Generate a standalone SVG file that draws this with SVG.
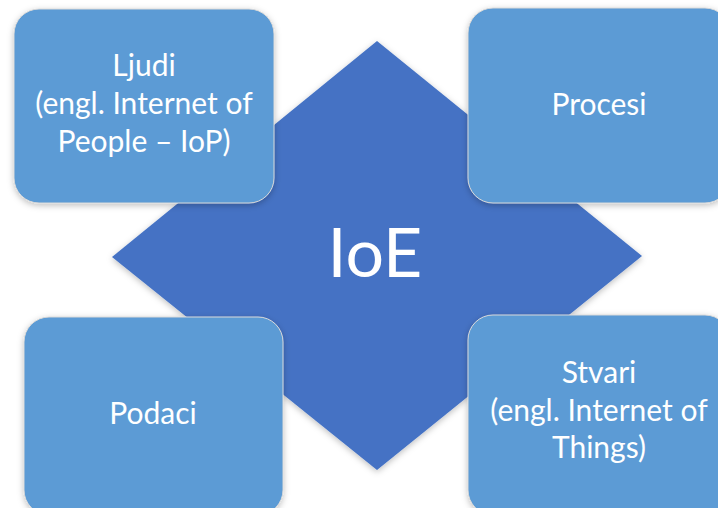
<svg xmlns="http://www.w3.org/2000/svg" width="718" height="508" viewBox="0 0 718 508">
<defs>
<filter id="sh" x="-10%" y="-10%" width="120%" height="125%">
<feDropShadow dx="0" dy="2" stdDeviation="3" flood-color="#000" flood-opacity="0.25"/>
</filter>
</defs>
<style>
.box{fill:#5B9BD5;stroke:#D9D9D9;stroke-width:1;filter:url(#sh)}
.t{font-family:Lato,"Open Sans",sans-serif;font-size:30px;fill:#fff;text-anchor:middle}
.big{font-family:Lato,"Open Sans",sans-serif;font-size:68px;fill:#fff;text-anchor:middle}
</style>
<rect width="718" height="508" fill="#fff"/>
<g id="ioe">
<polygon points="377,41 642,256 377,470 112,257" fill="#4472C4" filter="url(#sh)"/>
<text class="big" x="375" y="277">IoE</text>
</g>
<g id="ljudi">
<rect class="box" x="14" y="9" width="260" height="194" rx="25"/>
<text class="t" x="144" y="76">Ljudi</text>
<text class="t" x="144" y="114">(engl. Internet of</text>
<text class="t" x="144" y="152">People – IoP)</text>
</g>
<g id="procesi">
<rect class="box" x="468" y="8" width="262" height="195" rx="25"/>
<text class="t" x="599" y="115">Procesi</text>
</g>
<g id="podaci">
<rect class="box" x="24" y="317" width="259" height="198" rx="25"/>
<text class="t" x="153" y="424">Podaci</text>
</g>
<g id="stvari">
<rect class="box" x="468" y="315" width="262" height="200" rx="25"/>
<text class="t" x="599" y="383">Stvari</text>
<text class="t" x="599" y="421">(engl. Internet of</text>
<text class="t" x="599" y="458">Things)</text>
</g>
<g id="connectors"></g>
</svg>
